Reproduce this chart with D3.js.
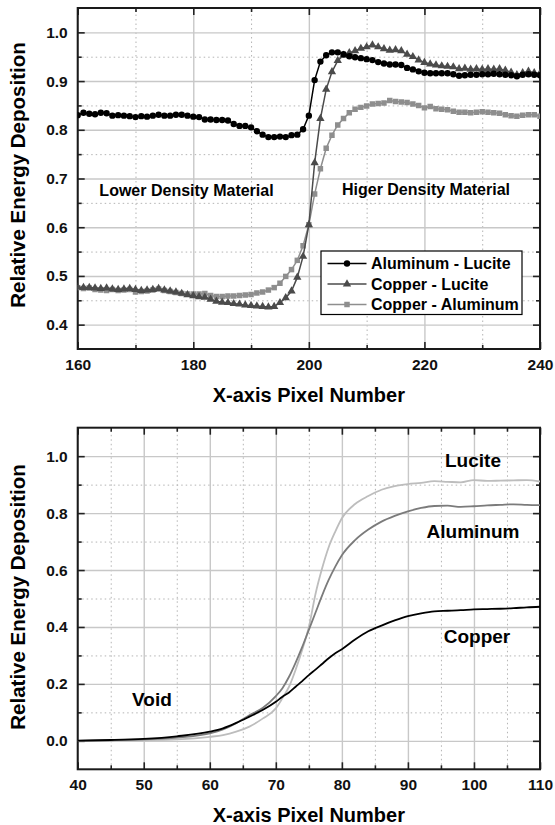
<!DOCTYPE html>
<html>
<head>
<meta charset="utf-8">
<script src="https://d3js.org/d3.v7.min.js"></script>
<style>
  body { margin: 0; background: #fff; }
  svg { display: block; font-family: "Liberation Sans", Arial, sans-serif; font-weight: bold; }
</style>
</head>
<body>
<script>
// ---- top panel: edge profiles sampled at every pixel 160..240
const topPixels = d3.range(160, 241);

const aluminumLucite = [
  0.830, 0.835, 0.833, 0.832, 0.835, 0.834, 0.829, 0.830, 0.829, 0.828,
  0.826, 0.828, 0.827, 0.829, 0.831, 0.829, 0.829, 0.831, 0.831, 0.829,
  0.827, 0.826, 0.821, 0.821, 0.820, 0.820, 0.819, 0.812, 0.808, 0.808,
  0.805, 0.797, 0.790, 0.785, 0.785, 0.786, 0.785, 0.789, 0.790, 0.801,
  0.829, 0.902, 0.940, 0.953, 0.959, 0.959, 0.955, 0.951, 0.949, 0.947,
  0.945, 0.943, 0.939, 0.936, 0.934, 0.934, 0.933, 0.927, 0.924, 0.920,
  0.917, 0.916, 0.916, 0.916, 0.916, 0.914, 0.911, 0.912, 0.913, 0.913,
  0.914, 0.914, 0.915, 0.914, 0.913, 0.912, 0.910, 0.913, 0.914, 0.913,
  0.912
];

const copperLucite = [
  0.477, 0.476, 0.476, 0.475, 0.474, 0.475, 0.473, 0.472, 0.473, 0.474,
  0.472, 0.470, 0.471, 0.472, 0.474, 0.471, 0.469, 0.467, 0.464, 0.461,
  0.459, 0.457, 0.456, 0.452, 0.448, 0.446, 0.445, 0.443, 0.442, 0.440,
  0.439, 0.438, 0.437, 0.436, 0.437, 0.445, 0.455, 0.469, 0.497, 0.540,
  0.605, 0.732, 0.823, 0.883, 0.919, 0.942, 0.953, 0.958, 0.962, 0.967,
  0.970, 0.974, 0.970, 0.966, 0.963, 0.964, 0.962, 0.955, 0.950, 0.943,
  0.938, 0.935, 0.933, 0.931, 0.930, 0.929, 0.925, 0.926, 0.924, 0.925,
  0.924, 0.925, 0.924, 0.925, 0.922, 0.918, 0.913, 0.917, 0.920, 0.917,
  0.916
];

const copperAluminum = [
  0.476, 0.474, 0.475, 0.472, 0.471, 0.470, 0.472, 0.470, 0.471, 0.472,
  0.467, 0.468, 0.469, 0.471, 0.473, 0.470, 0.468, 0.466, 0.464, 0.463,
  0.463, 0.463, 0.464, 0.460, 0.458, 0.458, 0.459, 0.459, 0.460, 0.461,
  0.462, 0.465, 0.467, 0.471, 0.476, 0.485, 0.499, 0.513, 0.532, 0.562,
  0.605, 0.668, 0.720, 0.762, 0.789, 0.810, 0.823, 0.835, 0.842, 0.846,
  0.849, 0.853, 0.854, 0.855, 0.860, 0.858, 0.857, 0.856, 0.853, 0.850,
  0.845, 0.848, 0.843, 0.842, 0.841, 0.838, 0.836, 0.836, 0.835, 0.836,
  0.837, 0.836, 0.835, 0.834, 0.831, 0.829, 0.828, 0.830, 0.831, 0.831,
  0.828
];

const topXMajor = [160, 180, 200, 220, 240];
const topXMinor = [170, 190, 210, 230];
const topYMajor = [0.4, 0.5, 0.6, 0.7, 0.8, 0.9, 1.0];
const topYMinor = [0.45, 0.55, 0.65, 0.75, 0.85, 0.95];

// ---- bottom panel: single-material edge response
const bottomPixels = [40, 45, 50, 55, 60, 62, 64, 66, 68, 70, 71, 72, 73, 74, 75, 76, 77, 78, 79, 80,
  82, 84, 86, 88, 90, 92, 94, 96, 98, 100, 102, 104, 106, 108, 110];

const lucite = [0.000, 0.001, 0.002, 0.005, 0.014, 0.020, 0.032, 0.050, 0.078, 0.114, 0.150, 0.190,
  0.250, 0.320, 0.400, 0.515, 0.605, 0.680, 0.735, 0.782, 0.832, 0.860, 0.882, 0.895, 0.902, 0.906,
  0.912, 0.910, 0.908, 0.916, 0.913, 0.914, 0.915, 0.916, 0.911];

const aluminum = [0.000, 0.002, 0.005, 0.011, 0.026, 0.040, 0.062, 0.090, 0.115, 0.157, 0.185, 0.225,
  0.275, 0.330, 0.390, 0.450, 0.510, 0.565, 0.612, 0.652, 0.705, 0.742, 0.770, 0.790, 0.806, 0.818,
  0.825, 0.826, 0.822, 0.824, 0.827, 0.829, 0.831, 0.829, 0.828];

const copper = [0.001, 0.003, 0.007, 0.016, 0.032, 0.044, 0.063, 0.085, 0.108, 0.137, 0.155, 0.170,
  0.190, 0.210, 0.231, 0.250, 0.270, 0.290, 0.308, 0.322, 0.356, 0.385, 0.405, 0.423, 0.438, 0.448,
  0.455, 0.457, 0.459, 0.462, 0.463, 0.464, 0.466, 0.469, 0.471];

const bottomXMajor = [40, 50, 60, 70, 80, 90, 100, 110];
const bottomXMinor = [45, 55, 65, 75, 85, 95, 105];
const bottomYMajor = [0.0, 0.2, 0.4, 0.6, 0.8, 1.0];
const bottomYMinor = [0.1, 0.3, 0.5, 0.7, 0.9];

const svg = d3.select('body')
  .append('svg')
  .attr('width', 555)
  .attr('height', 825);

function drawPanel(p) {
  const x = d3.scaleLinear().domain(p.xDomain).range([p.left, p.right]);
  const y = d3.scaleLinear().domain(p.yDomain).range([p.bottom, p.top]);
  const w = p.right - p.left;
  const h = p.bottom - p.top;
  const g = svg.append('g');

  // grid: dotted minor, solid major
  const grid = (axis, pos, values, dashed) => {
    g.append('g')
      .attr('transform', pos)
      .call(axis.tickValues(values).tickFormat(''))
      .call(s => s.select('.domain').remove())
      .selectAll('line')
      .attr('stroke', dashed ? '#b4b4b4' : '#c8c8c8')
      .attr('stroke-width', dashed ? 1 : 1.4)
      .attr('stroke-dasharray', dashed ? '1.5,3' : null);
  };
  grid(d3.axisBottom(x).tickSize(-h), `translate(0,${p.bottom})`, p.xMinor, true);
  grid(d3.axisLeft(y).tickSize(-w), `translate(${p.left},0)`, p.yMinor, true);
  grid(d3.axisBottom(x).tickSize(-h), `translate(0,${p.bottom})`, p.xMajor, false);
  grid(d3.axisLeft(y).tickSize(-w), `translate(${p.left},0)`, p.yMajor, false);

  // inward ticks on all four sides
  const ticks = (axis, pos, values, size, fmt) => {
    const a = g.append('g')
      .attr('transform', pos)
      .call(axis.tickValues(values).tickSize(-size).tickPadding(10).tickFormat(fmt || ''));
    a.select('.domain').remove();
    a.selectAll('line').attr('stroke', '#222').attr('stroke-width', 1.6);
    a.selectAll('text')
      .attr('fill', '#111')
      .style('font-size', '15.5px')
      .style('font-weight', 'bold');
  };
  ticks(d3.axisBottom(x), `translate(0,${p.bottom})`, p.xMajor, 7, d => d);
  ticks(d3.axisBottom(x), `translate(0,${p.bottom})`, p.xMinor, 4);
  ticks(d3.axisTop(x), `translate(0,${p.top})`, p.xMajor, 7);
  ticks(d3.axisTop(x), `translate(0,${p.top})`, p.xMinor, 4);
  ticks(d3.axisLeft(y), `translate(${p.left},0)`, p.yMajor, 7, d3.format('.1f'));
  ticks(d3.axisLeft(y), `translate(${p.left},0)`, p.yMinor, 4);
  ticks(d3.axisRight(y), `translate(${p.right},0)`, p.yMajor, 7);
  ticks(d3.axisRight(y), `translate(${p.right},0)`, p.yMinor, 4);

  g.append('rect')
    .attr('x', p.left)
    .attr('y', p.top)
    .attr('width', w)
    .attr('height', h)
    .attr('fill', 'none')
    .attr('stroke', '#1a1a1a')
    .attr('stroke-width', 2);

  g.append('clipPath')
    .attr('id', p.id)
    .append('rect')
    .attr('x', p.left)
    .attr('y', p.top)
    .attr('width', w)
    .attr('height', h);

  // axis titles
  g.append('text')
    .attr('x', (p.left + p.right) / 2)
    .attr('y', p.bottom + 53)
    .attr('text-anchor', 'middle')
    .style('font-size', '20px')
    .text('X-axis Pixel Number');

  g.append('text')
    .attr('transform', `translate(25,${p.titleY}) rotate(-90)`)
    .attr('text-anchor', 'middle')
    .style('font-size', '20.5px')
    .text('Relative Energy Deposition');

  return { x, y, plot: g.append('g').attr('clip-path', `url(#${p.id})`) };
}

// ---------- top panel
const topPanel = drawPanel({
  id: 'clipTop', left: 77.7, right: 540, top: 8, bottom: 349, titleY: 175,
  xDomain: [160, 240], yDomain: [0.35, 1.05],
  xMajor: topXMajor, xMinor: topXMinor, yMajor: topYMajor, yMinor: topYMinor
});

const topSeries = [
  { name: 'Aluminum - Lucite', values: aluminumLucite, color: '#000', shape: 'circle' },
  { name: 'Copper - Lucite', values: copperLucite, color: '#4b4b4b', shape: 'triangle' },
  { name: 'Copper - Aluminum', values: copperAluminum, color: '#8e8e8e', shape: 'square' }
];

const symbolOf = {
  circle: d3.symbol(d3.symbolCircle, 32),
  triangle: d3.symbol(d3.symbolTriangle, 30),
  square: d3.symbol(d3.symbolSquare, 30)
};

const topLine = d3.line()
  .x(d => topPanel.x(d[0]))
  .y(d => topPanel.y(d[1]));

// draw lightest first so black stays on top
topSeries.slice().reverse().forEach(s => {
  const pts = topPixels.map((px, i) => [px, s.values[i]]);
  topPanel.plot.append('path')
    .datum(pts)
    .attr('d', topLine)
    .attr('fill', 'none')
    .attr('stroke', s.color)
    .attr('stroke-width', 1.5);
  topPanel.plot.selectAll(null)
    .data(pts)
    .enter()
    .append('path')
    .attr('transform', d => `translate(${topPanel.x(d[0])},${topPanel.y(d[1])})`)
    .attr('d', symbolOf[s.shape])
    .attr('fill', s.color);
});

svg.append('text')
  .attr('x', 186.5).attr('y', 196)
  .attr('text-anchor', 'middle')
  .style('font-size', '16px')
  .text('Lower Density Material');

svg.append('text')
  .attr('x', 426).attr('y', 195)
  .attr('text-anchor', 'middle')
  .style('font-size', '16px')
  .text('Higer Density Material');

// legend
const legend = svg.append('g').attr('transform', 'translate(321,251)');
legend.append('rect')
  .attr('width', 201)
  .attr('height', 63.5)
  .attr('fill', '#fff')
  .attr('stroke', '#000')
  .attr('stroke-width', 1.2);

topSeries.forEach((s, i) => {
  const row = legend.append('g').attr('transform', `translate(0,${12.5 + i * 20.5})`);
  row.append('line')
    .attr('x1', 6.5).attr('x2', 45.5)
    .attr('stroke', s.color)
    .attr('stroke-width', 1.5);
  row.append('path')
    .attr('transform', 'translate(26,0)')
    .attr('d', symbolOf[s.shape])
    .attr('fill', s.color);
  row.append('text')
    .attr('x', 50)
    .attr('dy', '0.36em')
    .style('font-size', '16px')
    .text(s.name);
});

// ---------- bottom panel
const botPanel = drawPanel({
  id: 'clipBottom', left: 77.7, right: 540, top: 427.7, bottom: 769.3, titleY: 597,
  xDomain: [40, 110], yDomain: [-0.1, 1.1],
  xMajor: bottomXMajor, xMinor: bottomXMinor, yMajor: bottomYMajor, yMinor: bottomYMinor
});

const bottomSeries = [
  { values: lucite, color: '#bdbdbd' },
  { values: aluminum, color: '#7b7b7b' },
  { values: copper, color: '#000' }
];

const botLine = d3.line()
  .curve(d3.curveMonotoneX)
  .x(d => botPanel.x(d[0]))
  .y(d => botPanel.y(d[1]));

bottomSeries.forEach(s => {
  botPanel.plot.append('path')
    .datum(bottomPixels.map((px, i) => [px, s.values[i]]))
    .attr('d', botLine)
    .attr('fill', 'none')
    .attr('stroke', s.color)
    .attr('stroke-width', 1.8);
});

const labels = [
  { text: 'Lucite', x: 473, y: 467 },
  { text: 'Aluminum', x: 473, y: 538 },
  { text: 'Copper', x: 477, y: 643 },
  { text: 'Void', x: 152, y: 706 }
];

svg.selectAll('.material')
  .data(labels)
  .enter()
  .append('text')
  .attr('class', 'material')
  .attr('x', d => d.x)
  .attr('y', d => d.y)
  .attr('text-anchor', 'middle')
  .style('font-size', '19px')
  .text(d => d.text);
</script>
</body>
</html>
